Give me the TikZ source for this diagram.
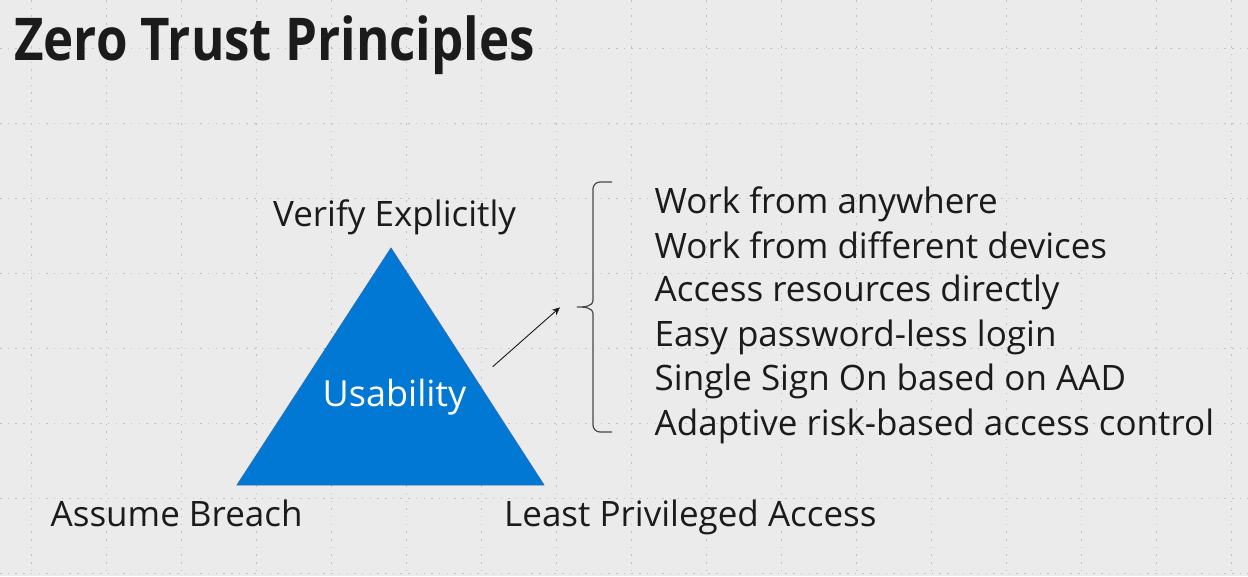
\documentclass[tikz,border=0pt]{standalone}
\usepackage{fontspec}
\setmainfont{Open Sans}
\newfontfamily\titlefont[FakeStretch=0.865]{Open Sans}
\usepackage{tikz}
\usetikzlibrary{arrows.meta}
\definecolor{slidebg}{HTML}{EBEBEB}
\definecolor{griddot}{HTML}{C2C2C2}
\definecolor{msblue}{HTML}{0078D4}
\definecolor{msblueline}{HTML}{2F6EB6}
\definecolor{ink}{HTML}{1B1B1B}
\tikzstyle{arrow} = [line width=0.9pt, ink, -{Stealth[length=8pt,width=7pt]}]
\tikzstyle{gridline} = [griddot, line width=1pt, dash pattern=on 1.5pt off 6.2pt]
\tikzstyle{principle} = [anchor=base west, inner sep=0pt, text=ink, font=\fontsize{35}{42}\selectfont]
\tikzstyle{benefit} = [anchor=base west, inner sep=0pt, text=ink, font=\fontsize{35}{42}\selectfont]
\tikzstyle{bracket} = [line width=1.2pt, ink!80]

\begin{document}
\begin{tikzpicture}[x=1pt,y=-1pt]
\fill[slidebg] (0,0) rectangle (1248,576);
\useasboundingbox (0,0) rectangle (1248,576);
% dotted grid of the slide
\foreach \gx in {31,106,...,1231} \draw[gridline] (\gx,0) -- (\gx,576);
\foreach \gy in {48,123,...,573} \draw[gridline] (0,\gy) -- (1248,\gy);

\node[anchor=base west, inner sep=0pt, text=ink, font=\titlefont\fontsize{59}{70}\selectfont\bfseries] (title) at (14,60) {Zero Trust Principles};

% triangle
\coordinate (apex) at (391,248);
\coordinate (baseleft) at (237,485);
\coordinate (baseright) at (544,485);
\draw[fill=msblue, draw=msblueline, line width=0.8pt] (apex) -- (baseleft) -- (baseright) -- cycle;
\node[anchor=base, inner sep=0pt, text=white, font=\fontsize{36}{43}\selectfont] (usability) at (394.5,406) {Usability};

\node[principle] (verify) at (273,226.7) {Verify Explicitly};
\node[principle] (breach) at (50.5,526.7) {Assume Breach};
\node[principle] (leastpriv) at (504,526.7) {Least Privileged Access};

% arrow to the brace
\coordinate (arrowtail) at (492.7,366.7);
\coordinate (arrowhead) at (560,307.3);
\draw[arrow] (arrowtail) -- (arrowhead);

% brace
\draw[bracket] (612,182) -- (600,182) to[out=180,in=90] (593,189) -- (593,300)
  to[out=-90,in=0] (577,307) to[out=0,in=90] (593,314) -- (593,425)
  to[out=-90,in=180] (600,432) -- (612,432);

\node[benefit] (anywhere) at (654.5,213.3) {Work from anywhere};
\node[benefit] (devices) at (654.5,258.3) {Work from different devices};
\node[benefit] (resources) at (654.5,301.7) {Access resources directly};
\node[benefit] (passwordless) at (654.5,346) {Easy password-less login};
\node[benefit] (sso) at (654.5,390.7) {Single Sign On based on AAD};
\node[benefit] (adaptive) at (654.5,435) {Adaptive risk-based access control};
\end{tikzpicture}
\end{document}
